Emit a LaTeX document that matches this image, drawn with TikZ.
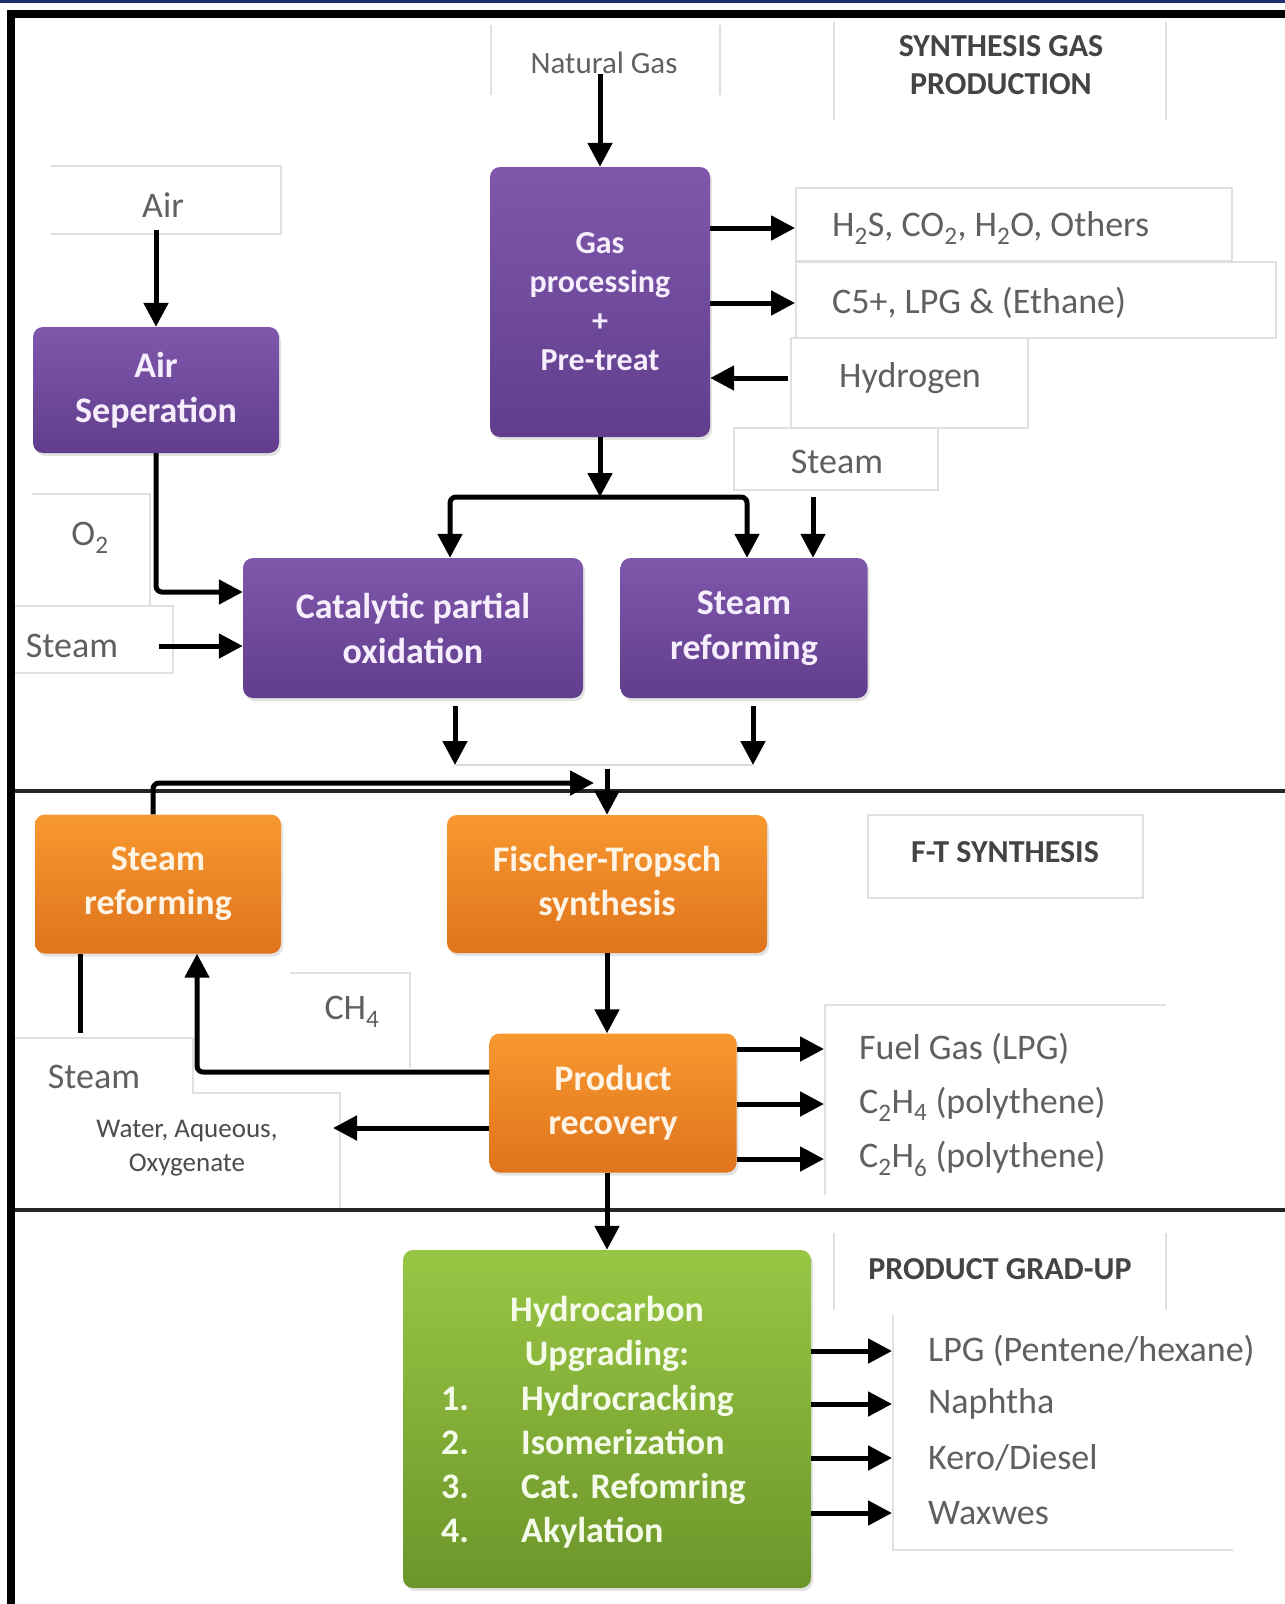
\documentclass[tikz,border=0pt]{standalone}
\usepackage{fontspec}
\setmainfont{Carlito}
\usetikzlibrary{arrows.meta,shadows,calc}
\definecolor{purpT}{RGB}{127,87,171}
\definecolor{purpB}{RGB}{97,62,141}
\definecolor{purpText}{RGB}{246,238,252}
\definecolor{oranT}{RGB}{248,152,48}
\definecolor{oranB}{RGB}{223,116,28}
\definecolor{oranText}{RGB}{255,243,228}
\definecolor{grnT}{RGB}{152,198,68}
\definecolor{grnB}{RGB}{108,150,42}
\definecolor{grnText}{RGB}{244,251,232}
\definecolor{labgray}{RGB}{96,96,96}
\definecolor{hdgray}{RGB}{68,68,68}
\definecolor{faint}{RGB}{224,224,224}
\definecolor{topblue}{RGB}{30,50,110}
\newcommand\fsz[2]{\fontsize{#1}{#2}\selectfont}
\tikzset{
  procbox/.style={rounded corners=10pt, draw=none, inner sep=0pt, align=center,
    drop shadow={shadow xshift=2pt, shadow yshift=-3pt, opacity=0.22}},
  pbox/.style={procbox, top color=purpT, bottom color=purpB, text=purpText, font=\bfseries\fsz{36}{45}},
  obox/.style={procbox, top color=oranT, bottom color=oranB, text=oranText, font=\bfseries\fsz{36}{44}},
  gbox/.style={procbox, top color=grnT, bottom color=grnB},
  gtext/.style={text=grnText, font=\bfseries\fsz{36}{44}, inner sep=0pt},
  lbl/.style={text=labgray, font=\fsz{36}{42}, inner sep=0pt},
  hd/.style={text=hdgray, font=\bfseries\fsz{32}{38}, align=center, inner sep=0pt},
  fbox/.style={draw=faint, line width=1.5pt},
  conn/.style={line width=5pt, black},
  arr/.style={conn, -{Triangle[length=24pt,width=24pt]}},
  sepline/.style={line width=3.5pt, black!85},
}
\begin{document}
\begin{tikzpicture}[x=1pt,y=-1pt]
\useasboundingbox (0,0) rectangle (1285,1604);
\fill[white] (0,0) rectangle (1285,1604);
\fill[topblue] (0,0) rectangle (1285,3);
\fill[black] (7,10) rectangle (1285,18);
\fill[black] (7,10) rectangle (15,1604);

% faint label frames
\draw[fbox] (491,25) -- (491,95);
\draw[fbox] (720,25) -- (720,95);
\draw[fbox] (834,22) -- (834,120);
\draw[fbox] (1166,22) -- (1166,120);
\draw[fbox] (51,166) -- (281,166) -- (281,234) -- (51,234);
\draw[fbox] (796,188) rectangle (1232,261);
\draw[fbox] (796,262) rectangle (1276,338);
\draw[fbox] (791,338) rectangle (1028,428);
\draw[fbox] (734,428) rectangle (938,490);
\draw[fbox] (32,494) -- (150,494) -- (150,606);
\draw[fbox] (15,606) -- (173,606) -- (173,673) -- (15,673);
\draw[fbox] (868,815) rectangle (1143,898);
\draw[fbox] (290,973) -- (410,973) -- (410,1068);
\draw[fbox] (15,1038) -- (193,1038) -- (193,1093) -- (340,1093) -- (340,1208);
\draw[fbox] (825,1195) -- (825,1005) -- (1166,1005);
\draw[fbox] (834,1233) -- (834,1310);
\draw[fbox] (1166,1233) -- (1166,1310);
\draw[fbox] (893,1315) -- (893,1550) -- (1233,1550);

% section separators
\draw[sepline] (15,791) -- (1285,791);
\draw[sepline] (15,1210) -- (1285,1210);

% process boxes
\node[pbox, font=\bfseries\fsz{32}{39}, minimum width=220, minimum height=270] (gp) at (600,302) {Gas\\processing\\+\\Pre-treat};
\node[pbox, minimum width=246, minimum height=126] (as) at (156,390) {Air\\Seperation};
\node[pbox, minimum width=340, minimum height=140] (cpo) at (413,628) {Catalytic partial\\oxidation};
\node[pbox, minimum width=247, minimum height=140] (srp) at (744,628) {Steam\\reforming};
\node[obox, minimum width=246, minimum height=139] (sro) at (158,884) {Steam\\reforming};
\node[obox, minimum width=320, minimum height=138] (ft) at (607,884) {Fischer-Tropsch\\synthesis};
\node[obox, minimum width=247, minimum height=139] (pr) at (613,1103) {Product\\recovery};
\node[gbox, minimum width=408, minimum height=338] (hc) at (607,1419) {};
\node[gtext, align=center] (hchead) at (607,1334) {Hydrocarbon\\Upgrading:};
\node[gtext, align=left, anchor=west] (hclist) at (441,1467)
  {\makebox[80pt][l]{1.}Hydrocracking\\\makebox[80pt][l]{2.}Isomerization\\\makebox[80pt][l]{3.}Cat. Refomring\\\makebox[80pt][l]{4.}Akylation};

% labels
\node[lbl, font=\fsz{31}{36}] (ng) at (604,63) {Natural Gas};
\node[hd] (hsyn) at (1001,65) {SYNTHESIS GAS\\PRODUCTION};
\node[lbl] (air) at (163,205) {Air};
\node[lbl, anchor=west] (h2s) at (832,228) {H\textsubscript{2}S, CO\textsubscript{2}, H\textsubscript{2}O, Others};
\node[lbl, anchor=west] (c5) at (832,303) {C5+, LPG \& (Ethane)};
\node[lbl, anchor=west] (hyd) at (839,378) {Hydrogen};
\node[lbl] (stu) at (837,462) {Steam};
\node[lbl] (o2) at (90,538) {O\textsubscript{2}};
\node[lbl] (stl) at (72,646) {Steam};
\node[hd] (hft) at (1005,852) {F-T SYNTHESIS};
\node[lbl] (ch4) at (352,1012) {CH\textsubscript{4}};
\node[lbl] (stlo) at (94,1077) {Steam};
\node[lbl, font=\fsz{27}{34}, text=black!70, align=center] (wat) at (187,1148) {Water, Aqueous,\\Oxygenate};
\node[lbl, anchor=west] (fg) at (859,1049) {Fuel Gas (LPG)};
\node[lbl, anchor=west] (c2h4) at (859,1104) {C\textsubscript{2}H\textsubscript{4} (polythene)};
\node[lbl, anchor=west] (c2h6) at (859,1159) {C\textsubscript{2}H\textsubscript{6} (polythene)};
\node[hd] (hpg) at (1000,1269) {PRODUCT GRAD-UP};
\node[lbl, anchor=west] (lpg) at (928,1351) {LPG (Pentene/hexane)};
\node[lbl, anchor=west] (nap) at (928,1404) {Naphtha};
\node[lbl, anchor=west] (ker) at (928,1458) {Kero/Diesel};
\node[lbl, anchor=west] (wax) at (928,1513) {Waxwes};

% helper coordinates
\coordinate (h2sL) at (795,188);
\coordinate (bus) at (600,497);
\coordinate (busL) at (450,497);
\coordinate (busR) at (747,497);
\coordinate (stuOut) at (813,497);
\coordinate (stlOut) at (159,646);
\coordinate (cpoOut) at (455,765);
\coordinate (srpOut) at (753,765);
\coordinate (ftJ) at (594,783);
\coordinate (ftIn) at (607,769);
\coordinate (fgL) at (824,1005);
\coordinate (ch4J) at (197,1072);
\coordinate (stlow) at (80,1033);
\coordinate (watIn) at (333,1128);
\coordinate (plL) at (892,1315);

% connectors
\draw[arr] (gp.north |- ng.south) -- (gp.north);
\draw[arr] ($(as.north |- air.south)+(0,12)$) -- (as.north);
\draw[arr] (gp.east |- h2s) -- (h2sL |- h2s);
\draw[arr] (gp.east |- c5) -- (h2sL |- c5);
\draw[arr] ($(h2sL |- hyd)+(-7,0)$) -- (gp.east |- hyd);
\draw[arr] (gp.south) -- (bus);
\draw[arr, rounded corners=6] (bus) -| (busL |- cpo.north);
\draw[arr, rounded corners=6] (bus) -| (busR |- srp.north);
\draw[arr] (stuOut) -- (stuOut |- srp.north);
\draw[arr, rounded corners=6] (as.south) |- ([yshift=36pt]cpo.west);
\draw[arr] (stlOut) -- ([yshift=-18pt]cpo.west);
\draw[draw=black!14, line width=2pt] (cpoOut) -- (srpOut);
\draw[arr] ($(cpo.south -| cpoOut)+(0,8)$) -- (cpoOut);
\draw[arr] ($(srp.south -| srpOut)+(0,8)$) -- (srpOut);
\draw[arr, rounded corners=6] ($(sro.north)+(-5,0)$) |- (ftJ);
\draw[arr] (ftIn) -- (ftIn |- ft.north);
\draw[arr] (ft.south) -- (ft.south |- pr.north);
\draw[arr] (pr.east |- fg) -- (fgL |- fg);
\draw[arr] (pr.east |- c2h4) -- (fgL |- c2h4);
\draw[arr] (pr.east |- c2h6) -- (fgL |- c2h6);
\draw[arr, rounded corners=6] (pr.west |- ch4J) -| (sro.south -| ch4J);
\draw[conn] (sro.south -| stlow) -- (stlow);
\draw[arr] (pr.west |- watIn) -- (watIn);
\draw[arr] (hc.north |- pr.south) -- (hc.north);
\draw[arr] (hc.east |- lpg) -- (plL |- lpg);
\draw[arr] (hc.east |- nap) -- (plL |- nap);
\draw[arr] (hc.east |- ker) -- (plL |- ker);
\draw[arr] (hc.east |- wax) -- (plL |- wax);
\end{tikzpicture}
\end{document}
